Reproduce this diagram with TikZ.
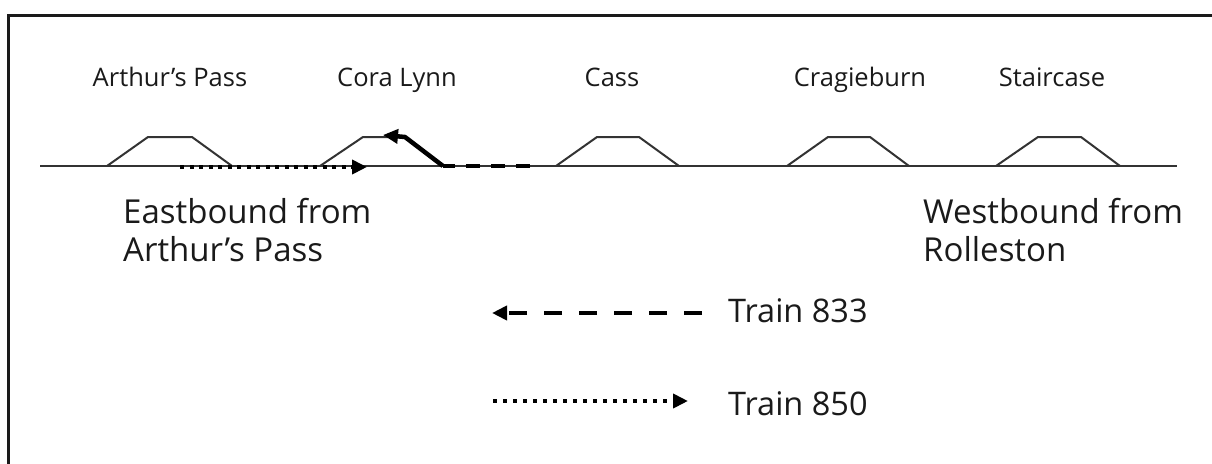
\documentclass[tikz,border=0pt]{standalone}
\usepackage{fontspec}
\setmainfont{Open Sans}
\usetikzlibrary{arrows.meta}
\definecolor{ink}{HTML}{1A1A1A}
\definecolor{trk}{HTML}{333333}
\tikzset{
  station/.style={anchor=base,inner sep=0pt,text=ink,font=\fontsize{25.5}{30}\selectfont},
  biglabel/.style={anchor=base west,inner sep=0pt,text=ink,align=left,font=\fontsize{33}{38}\selectfont},
  legendlabel/.style={anchor=base west,inner sep=0pt,text=ink,font=\fontsize{32.5}{36}\selectfont},
  track/.style={draw=trk,line width=2pt},
  platform/.style={draw=trk,line width=2pt,line join=round},
  train833/.style={draw=black,line width=4.5pt,dash pattern=on 14pt off 11pt},
  train833leg/.style={draw=black,line width=4.5pt,dash pattern=on 18pt off 17pt},
  train850/.style={draw=black,line width=4.5pt,dash pattern=on 4pt off 5.5pt},
  head/.style={-{Triangle[length=15pt,width=14pt]}},
}
\begin{document}
\begin{tikzpicture}[x=1pt,y=-1pt]
\useasboundingbox (0,0) rectangle (1212,463);
\begin{scope}
\clip (0,0) rectangle (1212,463);
\draw[line width=3pt,draw=ink] (8.5,480) -- (8.5,15.5) -- (1230,15.5);
\end{scope}
% track
\coordinate (tw) at (40,166);
\coordinate (te) at (1177,166);
\draw[track] (tw) -- (te);
% platforms
\draw[platform] (107,166) -- (148,137) -- (192,137) -- (232,166);
\draw[platform] (320,166) -- (363,137) -- (405,137) -- (443,166);
\draw[platform] (556,166) -- (597,137) -- (639,137) -- (679,166);
\draw[platform] (787,166) -- (828,137) -- (870,137) -- (909,166);
\draw[platform] (996,166) -- (1038,137) -- (1081,137) -- (1120,166);
% station labels
\node[station] (ap) at (170,86) {Arthur’s Pass};
\node[station] (cl) at (397,86) {Cora Lynn};
\node[station] (cs) at (612,86) {Cass};
\node[station] (cb) at (860,86) {Cragieburn};
\node[station] (sc) at (1052,86) {Staircase};
% big labels (anchor = baseline of last line)
\node[biglabel] (eb) at (123,261) {Eastbound from\\Arthur’s Pass};
\node[biglabel] (wb) at (923,261) {Westbound from\\Rolleston};
% train 850 on track
\coordinate (a850s) at (180,167);
\coordinate (a850e) at (367,167);
\draw[train850,head] (a850s) -- (a850e);
% train 833 on track
\coordinate (a833s) at (530,166);
\coordinate (a833m) at (443,166);
\coordinate (a833t) at (405,137);
\coordinate (a833e) at (383,135);
\draw[train833] (a833s) -- (a833m);
\draw[draw=black,line width=4.5pt,line join=round,head] (a833m) -- (a833t) -- (a833e);
% legend
\coordinate (l833s) at (702,313);
\coordinate (l833e) at (492,313);
\draw[train833leg,head] (l833s) -- (l833e);
\node[legendlabel] (t833) at (728,322) {Train 833};
\coordinate (l850s) at (493,401);
\coordinate (l850e) at (688,401);
\draw[train850,dash pattern=on 4pt off 6pt,head] (l850s) -- (l850e);
\node[legendlabel] (t850) at (728,415) {Train 850};
\end{tikzpicture}
\end{document}
